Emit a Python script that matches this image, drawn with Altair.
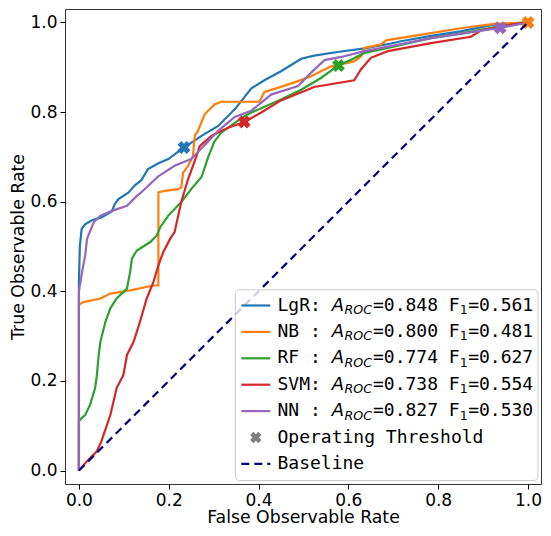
import altair as alt
import pandas as pd

# ---------------- data ----------------
models = ["LgR", "NB", "RF", "SVM", "NN"]
colors = ["#1f77b4", "#ff7f0e", "#2ca02c", "#d62728", "#9467bd"]
auc_values = [0.848, 0.800, 0.774, 0.738, 0.827]
f1_values = [0.561, 0.481, 0.627, 0.554, 0.530]

lgr_fpr = [0, 0, 0.002, 0.006, 0.013, 0.028, 0.05, 0.073, 0.08, 0.088, 0.11, 0.124, 0.139, 0.154, 0.176,
           0.199, 0.234, 0.273, 0.31, 0.347, 0.384, 0.413, 0.45, 0.495, 0.524, 0.576, 0.636, 0.695, 0.717,
           0.784, 0.85, 0.924, 1.0]
lgr_tpr = [0, 0.42, 0.50, 0.539, 0.549, 0.558, 0.565, 0.578, 0.595, 0.606, 0.62, 0.636, 0.648, 0.673, 0.685,
           0.695, 0.721, 0.747, 0.769, 0.806, 0.853, 0.871, 0.891, 0.919, 0.926, 0.934, 0.942, 0.953, 0.958,
           0.97, 0.98, 0.995, 1.0]

nb_fpr = [0, 0, 0.01, 0.048, 0.07, 0.114, 0.166, 0.177, 0.177, 0.191, 0.221, 0.228, 0.232, 0.243, 0.254,
          0.258, 0.265, 0.28, 0.302, 0.317, 0.402, 0.413, 0.443, 0.488, 0.517, 0.539, 0.562, 0.613, 0.628,
          0.636, 0.673, 0.684, 0.784, 0.85, 0.924, 1.0]
nb_tpr = [0, 0.37, 0.376, 0.384, 0.395, 0.402, 0.413, 0.413, 0.621, 0.624, 0.628, 0.632, 0.665, 0.68, 0.702,
          0.747, 0.758, 0.795, 0.817, 0.823, 0.823, 0.845, 0.854, 0.869, 0.88, 0.891, 0.902, 0.913, 0.924,
          0.943, 0.951, 0.96, 0.976, 0.987, 0.997, 1.0]

rf_fpr = [0, 0, 0.006, 0.014, 0.025, 0.036, 0.04, 0.044, 0.048, 0.059, 0.07, 0.084, 0.107, 0.114, 0.118,
          0.129, 0.159, 0.173, 0.181, 0.199, 0.228, 0.25, 0.273, 0.288, 0.302, 0.317, 0.347, 0.369, 0.384,
          0.45, 0.495, 0.539, 0.578, 0.606, 0.636, 0.695, 0.784, 0.85, 0.93, 1.0]
rf_tpr = [0, 0.11, 0.117, 0.124, 0.147, 0.184, 0.213, 0.258, 0.288, 0.332, 0.362, 0.384, 0.406, 0.443, 0.473,
          0.491, 0.51, 0.524, 0.543, 0.569, 0.599, 0.628, 0.655, 0.70, 0.735, 0.754, 0.776, 0.791, 0.799,
          0.828, 0.85, 0.876, 0.904, 0.917, 0.932, 0.945, 0.965, 0.975, 0.99, 1.0]

svm_fpr = [0, 0.018, 0.04, 0.05, 0.055, 0.07, 0.084, 0.099, 0.107, 0.122, 0.136, 0.151, 0.166, 0.177, 0.188,
           0.203, 0.213, 0.228, 0.243, 0.262, 0.269, 0.295, 0.332, 0.368, 0.406, 0.45, 0.524, 0.613, 0.628,
           0.65, 0.688, 0.784, 0.873, 0.895, 0.962, 1.0]
svm_tpr = [0, 0.021, 0.043, 0.065, 0.08, 0.124, 0.184, 0.213, 0.258, 0.288, 0.332, 0.384, 0.421, 0.458, 0.488,
           0.517, 0.532, 0.6, 0.65, 0.702, 0.724, 0.747, 0.765, 0.778, 0.799, 0.826, 0.856, 0.871, 0.895,
           0.921, 0.936, 0.954, 0.968, 0.982, 0.995, 1.0]

nn_fpr = [0, 0, 0.007, 0.014, 0.018, 0.033, 0.048, 0.075, 0.107, 0.129, 0.139, 0.176, 0.213, 0.25, 0.273,
          0.31, 0.347, 0.384, 0.428, 0.488, 0.517, 0.547, 0.584, 0.636, 0.695, 0.784, 0.938, 1.0]
nn_tpr = [0, 0.40, 0.443, 0.48, 0.517, 0.554, 0.569, 0.58, 0.591, 0.613, 0.621, 0.656, 0.68, 0.695, 0.719,
          0.758, 0.789, 0.803, 0.839, 0.858, 0.888, 0.916, 0.923, 0.936, 0.947, 0.965, 0.988, 1.0]

op_fpr = [0.234, 1.0, 0.578, 0.368, 0.938]
op_tpr = [0.721, 1.0, 0.904, 0.778, 0.988]

baseline_x = [0.0, 1.0]
baseline_y = [0.0, 1.0]
axis_ticks = [0.0, 0.2, 0.4, 0.6, 0.8, 1.0]

# ---------------- tables ----------------
all_fpr = [lgr_fpr, nb_fpr, rf_fpr, svm_fpr, nn_fpr]
all_tpr = [lgr_tpr, nb_tpr, rf_tpr, svm_tpr, nn_tpr]
rows = []
for m, fs_, ts_ in zip(models, all_fpr, all_tpr):
    for i, (a, b) in enumerate(zip(fs_, ts_)):
        rows.append({"model": m, "fpr": a, "tpr": b, "i": i})
curves = pd.DataFrame(rows)
ops = pd.DataFrame({"model": models, "fpr": op_fpr, "tpr": op_tpr})
base = pd.DataFrame({"fpr": baseline_x, "tpr": baseline_y})

# ---------------- layout ----------------
PADL, PADT = 57, 1
PW, PH = 476, 475
PADR = 535 - PADL - PW
PADB = 520 - PADT - PH

# ---------------- scales / axes ----------------
FONT = "DejaVu Sans"
MONO = "DejaVu Sans Mono"
x_scale = alt.Scale(domain=[-0.031, 1.029], nice=False, zero=False)
y_scale = alt.Scale(domain=[-0.03, 1.03], nice=False, zero=False)
color_scale = alt.Scale(domain=models, range=colors)
x_axis = alt.Axis(title="False Observable Rate", values=axis_ticks, format=".1f", grid=False,
                  domain=False, titleY=38, titleBaseline="alphabetic")
y_axis = alt.Axis(title="True Observable Rate", values=axis_ticks, format=".1f", grid=False,
                  domain=False, titleX=-(PADL - 1), titleY=PH / 2, titleBaseline="top")
X = alt.X("fpr:Q", scale=x_scale, axis=x_axis)
Y = alt.Y("tpr:Q", scale=y_scale, axis=y_axis)

lines = alt.Chart(curves).mark_line(strokeWidth=2.2).encode(
    x=X, y=Y,
    color=alt.Color("model:N", scale=color_scale, legend=None),
    order="i:Q",
    detail="model:N",
)
markers = alt.Chart(ops).mark_point(shape="cross", angle=45, filled=True, size=170, opacity=1).encode(
    x=X, y=Y, color=alt.Color("model:N", scale=color_scale, legend=None)
)
baseline = alt.Chart(base).mark_line(color="#000080", strokeWidth=2.2, strokeDash=[8, 5]).encode(x=X, y=Y)

# ---------------- custom legend (pixel layout inside the plot) ----------------
RIGHT, BOTTOM = PW - 3.0, PH - 3.5
LEFT, TOP = RIGHT - 302.7, BOTTOM - 190.7
ROW0, STEP = TOP + 15.7, 26.4
H0, H1 = LEFT + 6.0, LEFT + 35.0
FS, FSUB = 18, 12.6
W = 0.602 * FS
x_name = LEFT + 42.2
x_A = x_name + 5 * W
x_roc = x_A + 0.684 * FS + 0.5
x_eq = x_roc + 2.18 * FSUB + 1
x_sub1 = x_eq + 8 * W
x_eq2 = x_sub1 + 0.636 * FSUB + 0.5

leg = pd.DataFrame({
    "ly": [ROW0 + k * STEP for k in range(len(models))],
    "col": colors,
    "name": [f"{m:<3}:" for m in models],
    "a": ["A"] * len(models),
    "roc": ["ROC"] * len(models),
    "mid": [f"={v:.3f} F" for v in auc_values],
    "one": ["1"] * len(models),
    "end": [f"={v:.3f}" for v in f1_values],
    "h0": [H0] * len(models),
    "h1": [H1] * len(models),
})
leg["lsub"] = leg["ly"] + 4.5

frame = alt.Chart(pd.DataFrame({"k": [0]})).mark_rect(
    fill="white", fillOpacity=0.8, stroke="#cccccc", strokeWidth=1, cornerRadius=4
).encode(x=alt.value(LEFT), x2=alt.value(RIGHT), y=alt.value(TOP), y2=alt.value(BOTTOM))

handles = alt.Chart(leg).mark_rule(strokeWidth=2.2).encode(
    x=alt.X("h0:Q", scale=None), x2="h1:Q", y=alt.Y("ly:Q", scale=None),
    color=alt.Color("col:N", scale=None),
)


def txt(field, xpos, yfield, font, size, style="normal"):
    return alt.Chart(leg).mark_text(align="left", baseline="middle", font=font, fontSize=size,
                                    fontStyle=style, color="black").encode(
        x=alt.value(xpos), y=alt.Y(f"{yfield}:Q", scale=None), text=f"{field}:N")


t_name = txt("name", x_name, "ly", MONO, FS)
t_a = txt("a", x_A, "ly", FONT, FS, "italic")
t_roc = txt("roc", x_roc, "lsub", FONT, FSUB, "italic")
t_mid = txt("mid", x_eq, "ly", MONO, FS)
t_one = txt("one", x_sub1, "lsub", FONT, FSUB)
t_end = txt("end", x_eq2, "ly", MONO, FS)

extra = pd.DataFrame({
    "ly": [ROW0 + 5 * STEP, ROW0 + 6 * STEP],
    "label": ["Operating Threshold", "Baseline"],
    "mx": [(H0 + H1) / 2, (H0 + H1) / 2],
    "h0": [H0, H0],
    "h1": [H1, H1],
})
op_sym = alt.Chart(extra.iloc[[0]]).mark_point(shape="cross", angle=45, filled=True, size=130,
                                               color="#808080", opacity=1).encode(
    x=alt.X("mx:Q", scale=None), y=alt.Y("ly:Q", scale=None))
base_sym = alt.Chart(extra.iloc[[1]]).mark_rule(color="#000080", strokeWidth=2.2, strokeDash=[8, 5]).encode(
    x=alt.X("h0:Q", scale=None), x2="h1:Q", y=alt.Y("ly:Q", scale=None))
extra_txt = alt.Chart(extra).mark_text(align="left", baseline="middle", font=MONO, fontSize=FS,
                                       color="black").encode(
    x=alt.value(x_name), y=alt.Y("ly:Q", scale=None), text="label:N")

chart = alt.layer(
    lines, markers, baseline, frame, handles, t_name, t_a, t_roc, t_mid, t_one, t_end,
    op_sym, base_sym, extra_txt
).properties(
    width=PW, height=PH,
    autosize=alt.AutoSizeParams(type="none"),
    padding={"left": PADL, "top": PADT, "right": PADR, "bottom": PADB},
).configure_view(
    stroke="#333333", strokeWidth=1
).configure_axis(
    labelFont=FONT, labelFontSize=17, labelColor="black",
    titleFont=FONT, titleFontSize=17.3, titleFontWeight="normal", titleColor="black",
    tickColor="black", tickSize=5, tickWidth=1, labelPadding=3,
)

chart.save("out.html", embed_options={"renderer": "svg", "actions": False})
